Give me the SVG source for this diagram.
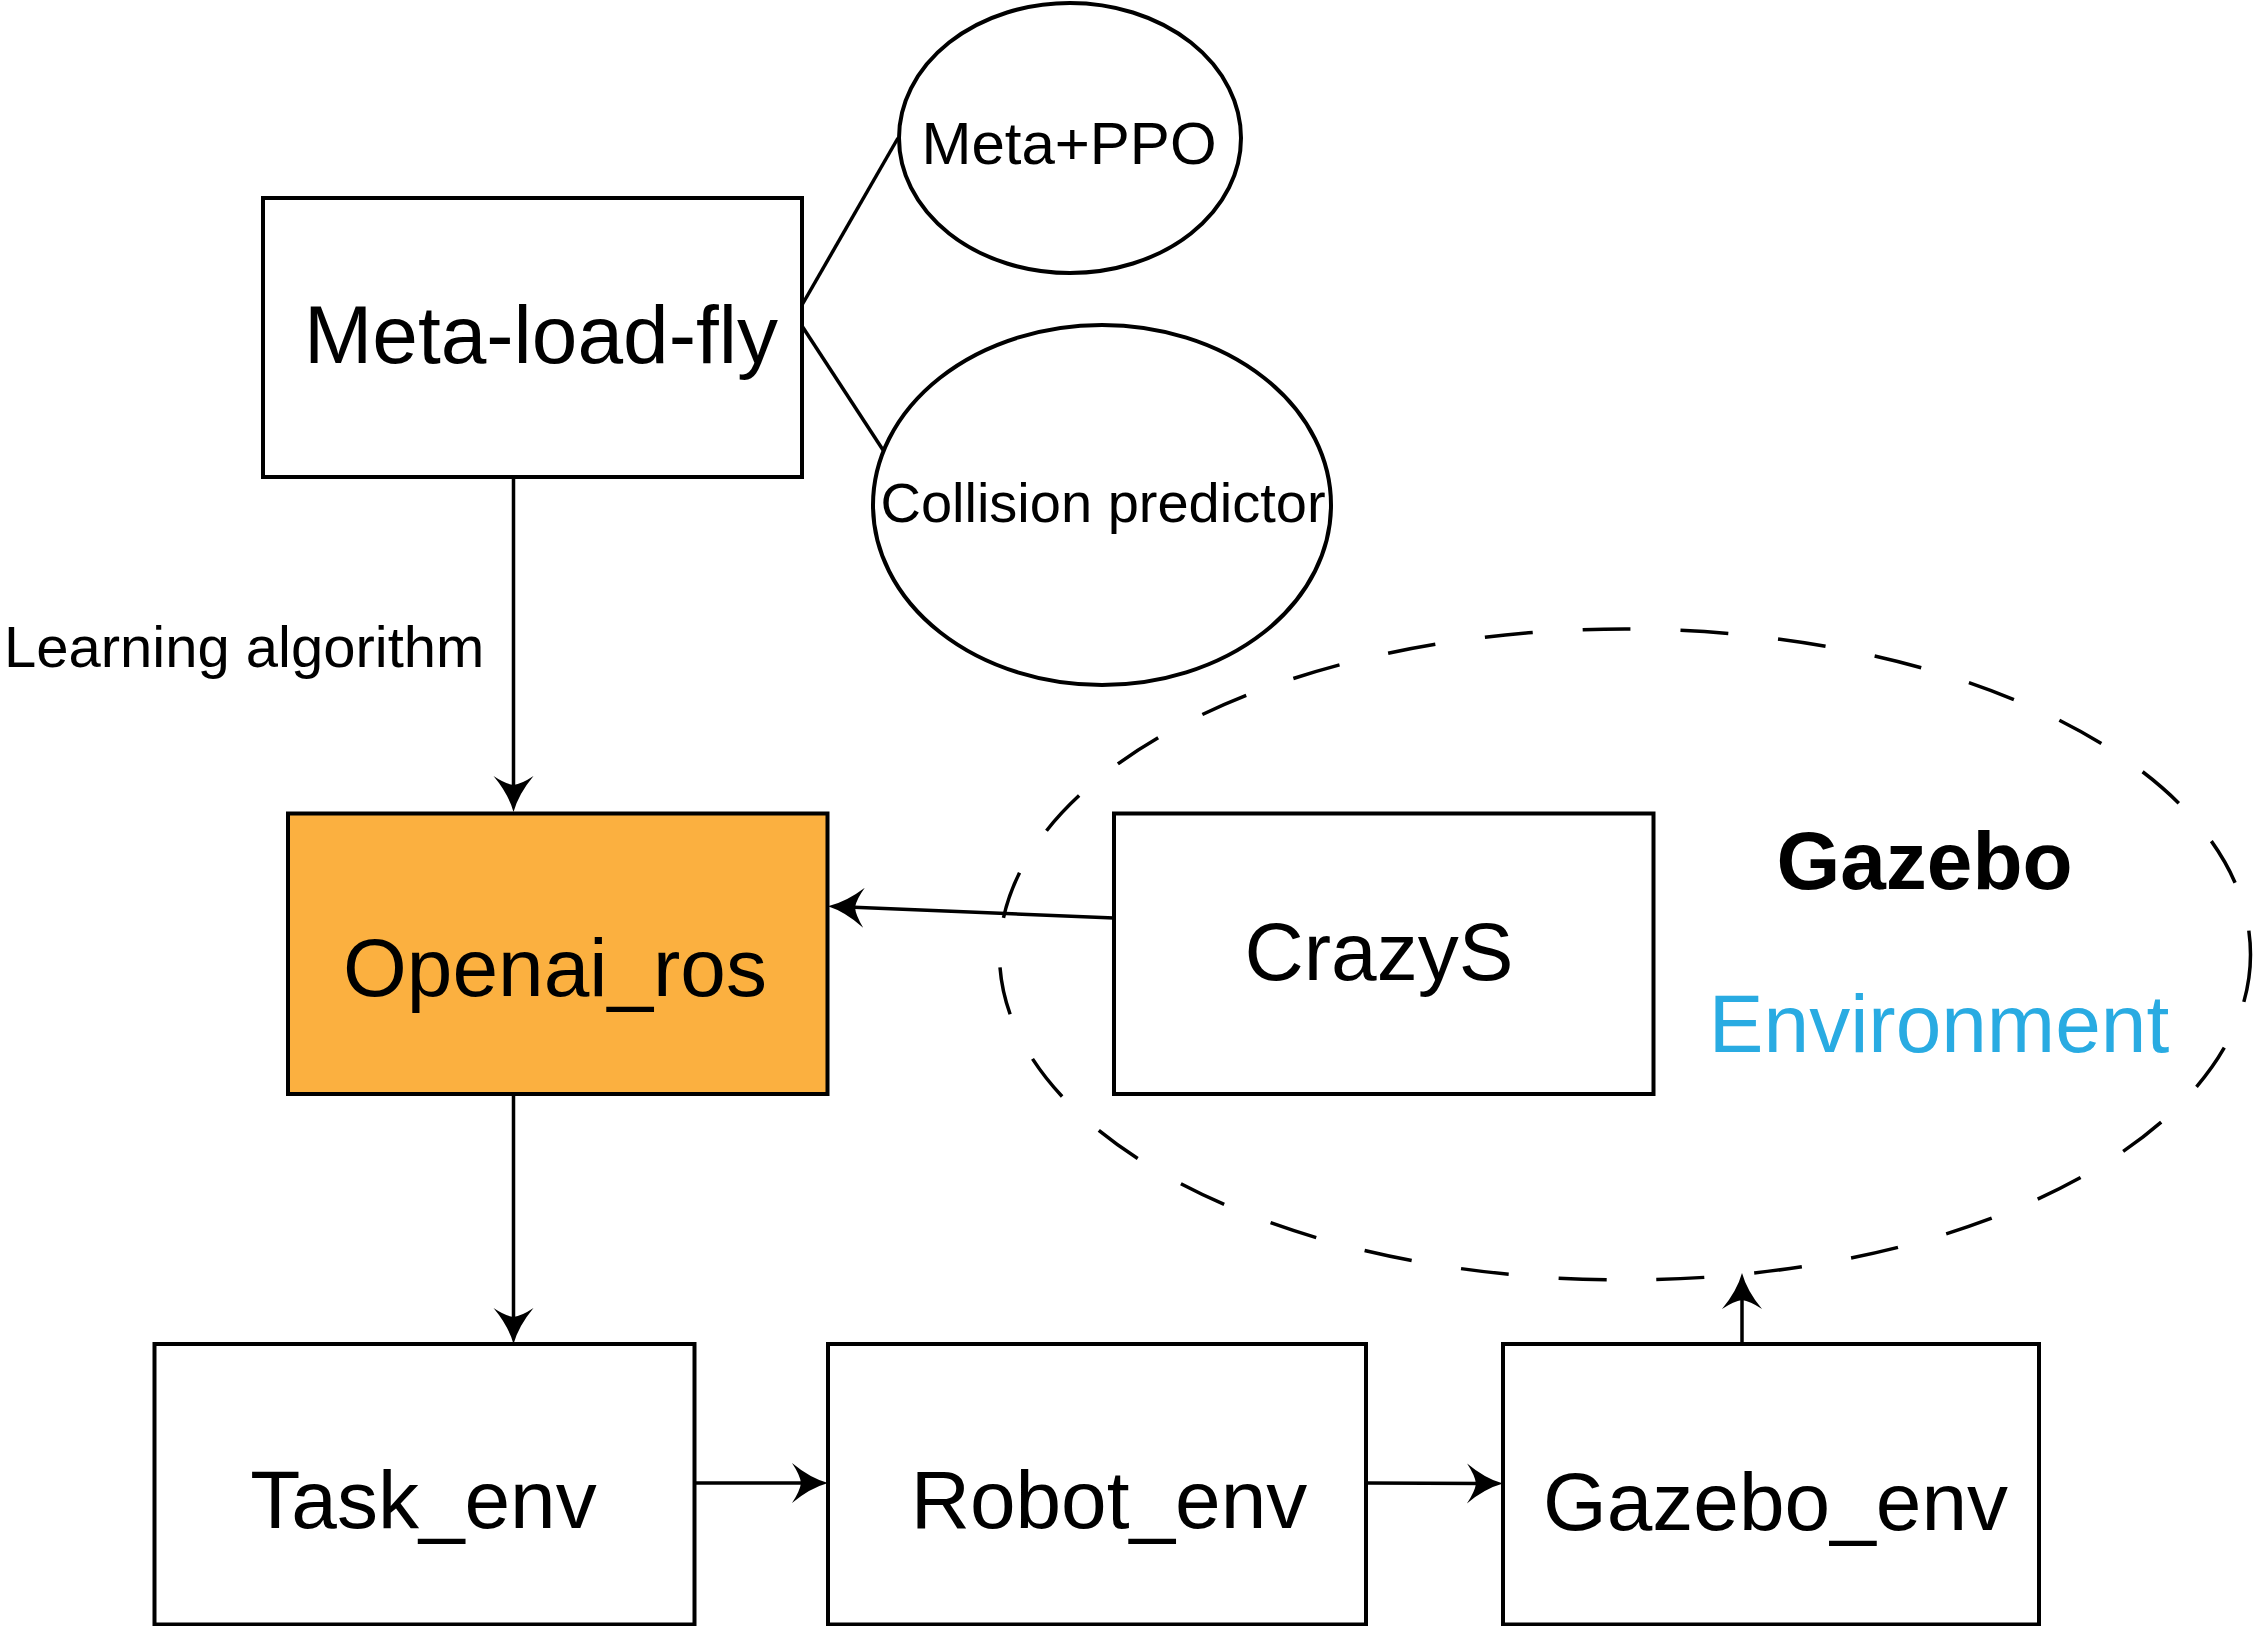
<svg xmlns="http://www.w3.org/2000/svg" width="2255" height="1626" viewBox="0 0 2255 1626">
  <style>
    .box { fill: #FFFFFF; stroke: #000000; stroke-width: 4; }
    .orange { fill: #FBB040; }
    .oval { fill: #FFFFFF; stroke: #000000; stroke-width: 4; }
    .env { fill: none; stroke: #000000; stroke-width: 3.5; stroke-dasharray: 48 50; }
    .lbl { font-family: "Liberation Sans", Arial, Helvetica, sans-serif; fill: #000000; text-anchor: middle; }
    .big { font-size: 82px; }
    .edge { fill: none; stroke: #000000; stroke-width: 3.5; }
    .arrow { marker-end: url(#arr); }
  </style>
  <defs>
    <marker id="arr" markerUnits="userSpaceOnUse" markerWidth="64" markerHeight="64" viewBox="-32 -32 64 64" refX="0" refY="0" orient="auto" overflow="visible">
      <path d="M20,0 Q2,-5 -16,-20 Q-8,-8 -7,0 Q-8,8 -16,20 Q2,5 20,0 Z" fill="#000000" stroke="none"/>
    </marker>
  </defs>
  <rect width="2255" height="1626" fill="#FFFFFF"/>

  <g id="gazebo-environment">
    <ellipse class="env" cx="1625" cy="954.5" rx="625.5" ry="325.5"/>
    <text class="lbl big" x="1924.5" y="889" font-weight="bold">Gazebo</text>
    <text class="lbl big" x="1939" y="1052" style="fill:#29ABE2">Environment</text>
  </g>

  <g id="connectors">
    <line class="edge" x1="802" y1="305" x2="898" y2="138"/>
    <line class="edge" x1="802" y1="326" x2="883" y2="450"/>
    <line class="edge arrow" x1="513.5" y1="477" x2="513.5" y2="792"/>
    <line class="edge arrow" x1="513.5" y1="1094" x2="513.5" y2="1324"/>
    <line class="edge arrow" x1="1114" y1="918" x2="848" y2="907"/>
    <line class="edge arrow" x1="694.5" y1="1483" x2="808" y2="1483"/>
    <line class="edge arrow" x1="1366" y1="1483" x2="1483" y2="1483.5"/>
    <line class="edge arrow" x1="1742" y1="1344" x2="1742" y2="1293"/>
  </g>

  <g id="meta-load-fly">
    <rect class="box" x="263" y="198" width="539" height="279"/>
    <text class="lbl big" x="541" y="363">Meta-load-fly</text>
  </g>

  <g id="meta-ppo">
    <ellipse class="oval" cx="1070" cy="138" rx="171" ry="135"/>
    <text class="lbl" x="1069" y="164" font-size="60">Meta+PPO</text>
  </g>

  <g id="collision-predictor">
    <ellipse class="oval" cx="1102" cy="505" rx="229" ry="180"/>
    <text class="lbl" x="1103" y="522" font-size="56">Collision predictor</text>
  </g>

  <g id="learning-algorithm-label">
    <text class="lbl" x="4" y="667" font-size="58" style="text-anchor:start">Learning algorithm</text>
  </g>

  <g id="openai-ros">
    <rect class="box orange" x="288" y="813.5" width="539.5" height="280.5"/>
    <text class="lbl big" x="555" y="996">Openai_ros</text>
  </g>

  <g id="crazys">
    <rect class="box" x="1114" y="813.5" width="539.5" height="280.5"/>
    <text class="lbl big" x="1379" y="980">CrazyS</text>
  </g>

  <g id="task-env">
    <rect class="box" x="154.5" y="1344" width="540" height="280.5"/>
    <text class="lbl big" x="423.5" y="1528">Task_env</text>
  </g>

  <g id="robot-env">
    <rect class="box" x="828" y="1344" width="538" height="280.5"/>
    <text class="lbl big" x="1109" y="1528">Robot_env</text>
  </g>

  <g id="gazebo-env">
    <rect class="box" x="1503" y="1344" width="536" height="280.5"/>
    <text class="lbl big" x="1775.5" y="1530">Gazebo_env</text>
  </g>
</svg>
